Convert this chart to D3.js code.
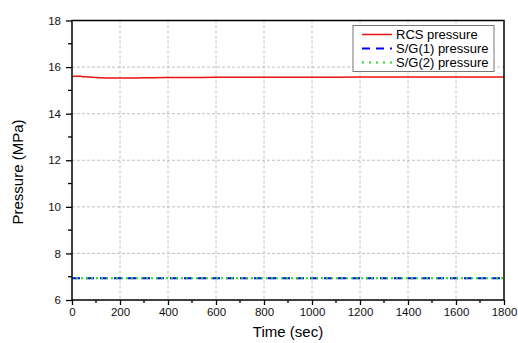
<!DOCTYPE html>
<html><head><meta charset="utf-8">
<script src="https://cdn.jsdelivr.net/npm/d3@7"></script>
<style>body{margin:0;background:#fff}text{font-family:"Liberation Sans",Arial,sans-serif}</style>
</head><body><svg id="c" width="518" height="343"></svg>
<script>
const xTicks = [0,200,400,600,800,1000,1200,1400,1600,1800];
const yTicks = [6,8,10,12,14,16,18];
const rcsTime = [0,10,20,40,70,100,150,200,300,400,500,600,800,1000,1200,1400,1600,1800];
const rcsPressure = [15.60,15.61,15.61,15.60,15.57,15.55,15.535,15.53,15.54,15.55,15.555,15.56,15.565,15.565,15.57,15.57,15.57,15.57];
const sgTime = [0,1800];
const sg1Pressure = [6.93,6.93];
const sg2Pressure = [6.93,6.93];
const seriesNames = ["RCS pressure","S/G(1) pressure","S/G(2) pressure"];

const svg = d3.select("#c");
const L=72,R=504,T=20.5,B=300;
const x = d3.scaleLinear().domain([0,1800]).range([L,R]);
const y = d3.scaleLinear().domain([6,18]).range([B,T]);

const g = svg.append("g");
g.selectAll(".gx").data(xTicks.slice(1,-1)).enter().append("line")
 .attr("x1",d=>x(d)).attr("x2",d=>x(d)).attr("y1",T).attr("y2",B)
 .attr("stroke","#b0b0b0").attr("stroke-width",0.8).attr("stroke-dasharray","3,2");
g.selectAll(".gy").data(yTicks.slice(1,-1)).enter().append("line")
 .attr("x1",L).attr("x2",R).attr("y1",d=>y(d)).attr("y2",d=>y(d))
 .attr("stroke","#b0b0b0").attr("stroke-width",0.8).attr("stroke-dasharray","3,2");

const line = (xs,ys)=>d3.line().x((d,i)=>x(xs[i])).y(d=>y(d)).curve(d3.curveMonotoneX)(ys);
svg.append("path").attr("d",line(sgTime,sg1Pressure)).attr("fill","none").attr("stroke","#0000ff").attr("stroke-width",2).attr("stroke-dasharray","8,6");
svg.append("path").attr("d",line(sgTime,sg2Pressure)).attr("fill","none").attr("stroke","#22dd22").attr("stroke-width",2).attr("stroke-dasharray","2,3").attr("stroke-dashoffset",-9);
svg.append("path").attr("d",line(rcsTime,rcsPressure)).attr("fill","none").attr("stroke","#ee1111").attr("stroke-width",1.5);

const xAxis = d3.axisBottom(x).tickValues(xTicks).tickSize(5).tickPadding(3).tickFormat(d3.format("d"));
const yAxis = d3.axisLeft(y).tickValues(yTicks).tickSize(6).tickPadding(5);
const ax = svg.append("g").attr("transform",`translate(0,${B})`).call(xAxis);
const ay = svg.append("g").attr("transform",`translate(${L},0)`).call(yAxis);
[ax,ay].forEach(a=>{a.select(".domain").remove();a.selectAll("line").attr("stroke","#000").attr("stroke-width",1.3);
 a.selectAll("text").attr("font-size",11.5).attr("fill","#111").style("font-family","Liberation Sans, Arial, sans-serif");});
const xm = d3.range(100,1800,200), ym = d3.range(7,18,2);
svg.selectAll(".xm").data(xm).enter().append("line").attr("x1",d=>x(d)).attr("x2",d=>x(d)).attr("y1",B).attr("y2",B+3).attr("stroke","#000").attr("stroke-width",1.3);
svg.selectAll(".ym").data(ym).enter().append("line").attr("y1",d=>y(d)).attr("y2",d=>y(d)).attr("x1",L).attr("x2",L-4).attr("stroke","#000").attr("stroke-width",1.3);
svg.append("rect").attr("x",L).attr("y",T).attr("width",R-L).attr("height",B-T).attr("fill","none").attr("stroke","#000").attr("stroke-width",1.5);

svg.append("text").attr("x",(L+R)/2).attr("y",337).attr("text-anchor","middle").attr("font-size",15).text("Time (sec)");
svg.append("text").attr("transform",`translate(23,172) rotate(-90)`).attr("text-anchor","middle").attr("font-size",15).text("Pressure (MPa)");

const lg = svg.append("g");
lg.append("rect").attr("x",353).attr("y",25.5).attr("width",141).attr("height",46).attr("fill","#fff").attr("stroke","#777").attr("stroke-width",1);
const styles=[{c:"#ee1111",d:null,w:1.5},{c:"#0000ff",d:"8,6",w:2},{c:"#22dd22",d:"2,5",w:2}];
seriesNames.forEach((n,i)=>{
 const yy = 34.5+i*14;
 const l = lg.append("line").attr("x1",362).attr("x2",392).attr("y1",yy).attr("y2",yy).attr("stroke",styles[i].c).attr("stroke-width",styles[i].w);
 if(styles[i].d) l.attr("stroke-dasharray",styles[i].d);
 lg.append("text").attr("x",396).attr("y",yy+4.5).attr("font-size",13).text(n);
});
</script></body></html>
